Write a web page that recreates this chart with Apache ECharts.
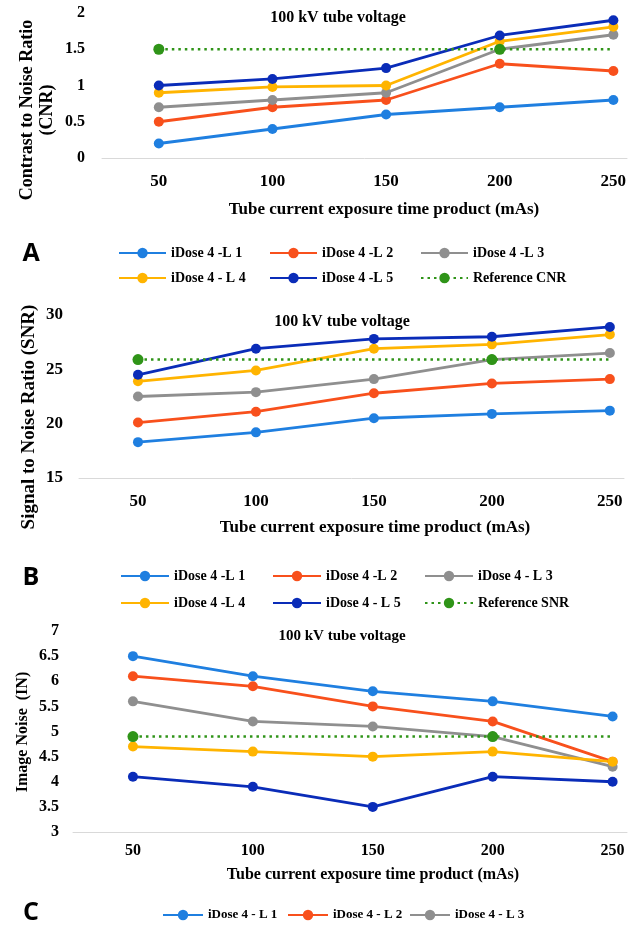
<!DOCTYPE html>
<html>
<head>
<meta charset="utf-8">
<script src="https://cdn.jsdelivr.net/npm/echarts@6/dist/echarts.min.js"></script>
<style>
html,body{margin:0;padding:0;background:#fff;}
#c{width:640px;height:928px;}
</style>
</head>
<body>
<div id="c"></div>
<script>
// ---- Data ----
const mAs = [50, 100, 150, 200, 250];
const mAsLabels = ['50', '100', '150', '200', '250'];

// Panel A: Contrast to Noise Ratio
const cnrNames = ['iDose 4 -L 1', 'iDose 4 -L 2', 'iDose 4 -L 3', 'iDose 4 - L 4', 'iDose 4 -L 5', 'Reference CNR'];
const cnrL1 = [0.2, 0.4, 0.6, 0.7, 0.8];
const cnrL2 = [0.5, 0.7, 0.8, 1.3, 1.2];
const cnrL3 = [0.7, 0.8, 0.9, 1.5, 1.7];
const cnrL4 = [0.9, 0.98, 1.0, 1.61, 1.81];
const cnrL5 = [1.0, 1.09, 1.24, 1.69, 1.9];
const cnrRef = [1.5, 1.5, 1.5, 1.5, 1.5];

// Panel B: Signal to Noise Ratio
const snrNames = ['iDose 4 -L 1', 'iDose 4 -L 2', 'iDose 4 - L 3', 'iDose 4 -L 4', 'iDose 4 - L 5', 'Reference SNR'];
const snrL1 = [18.3, 19.2, 20.5, 20.9, 21.2];
const snrL2 = [20.1, 21.1, 22.8, 23.7, 24.1];
const snrL3 = [22.5, 22.9, 24.1, 25.9, 26.5];
const snrL4 = [23.9, 24.9, 26.9, 27.3, 28.2];
const snrL5 = [24.5, 26.9, 27.8, 28.0, 28.9];
const snrRef = [25.9, 25.9, 25.9, 25.9, 25.9];

// Panel C: Image Noise
const inNames = ['iDose 4 - L 1', 'iDose 4 - L 2', 'iDose 4 - L 3', 'iDose 4 - L 4', 'iDose 4 - L 5', 'Reference IN'];
const inL1 = [6.5, 6.1, 5.8, 5.6, 5.3];
const inL2 = [6.1, 5.9, 5.5, 5.2, 4.4];
const inL3 = [5.6, 5.2, 5.1, 4.9, 4.3];
const inL4 = [4.7, 4.6, 4.5, 4.6, 4.4];
const inL5 = [4.1, 3.9, 3.5, 4.1, 4.0];
const inRef = [4.9, 4.9, 4.9, 4.9, 4.9];

// reference series shows markers only at these mAs values
const refMarkerAt = [50, 200];

// ---- Styles ----
const COLORS = ['#1f7fe0', '#f8501c', '#8f8f8f', '#ffb400', '#0a2cb8', '#2f9418'];
const SERIF = '"Liberation Serif", "Times New Roman", serif';
const SANS = '"Open Sans", "Liberation Sans", sans-serif';

const panels = [
  { names: cnrNames, vals: [cnrL1, cnrL2, cnrL3, cnrL4, cnrL5], ref: cnrRef,
    grid: { left: 102, top: 13, width: 525, height: 145 },
    y: { min: 0, max: 2, interval: 0.5 }, yFont: 16, xFont: 17, yMargin: 17, xMargin: 15 },
  { names: snrNames, vals: [snrL1, snrL2, snrL3, snrL4, snrL5], ref: snrRef,
    grid: { left: 79, top: 315, width: 545, height: 163 },
    y: { min: 15, max: 30, interval: 5 }, yFont: 17, xFont: 17, yMargin: 16, xMargin: 15 },
  { names: inNames, vals: [inL1, inL2, inL3, inL4, inL5], ref: inRef,
    grid: { left: 73, top: 631, width: 554, height: 201 },
    y: { min: 3, max: 7, interval: 0.5 }, yFont: 16, xFont: 16, yMargin: 14, xMargin: 11 }
];

const grids = [], xAxes = [], yAxes = [], series = [];
panels.forEach((p, g) => {
  grids.push(Object.assign({ containLabel: false, outerBoundsMode: 'none' }, p.grid));
  xAxes.push({
    type: 'value', gridIndex: g, min: 25, max: 256,
    axisLine: { show: true, lineStyle: { color: '#d9d9d9', width: 1 } },
    axisTick: { show: false },
    splitLine: { show: false },
    axisLabel: {
      customValues: mAs,
      formatter: v => mAsLabels[mAs.indexOf(v)] !== undefined ? mAsLabels[mAs.indexOf(v)] : '',
      fontFamily: SERIF, fontWeight: 'bold', fontSize: p.xFont, color: '#000', margin: p.xMargin
    }
  });
  yAxes.push({
    type: 'value', gridIndex: g, min: p.y.min, max: p.y.max, interval: p.y.interval,
    axisLine: { show: false }, axisTick: { show: false }, splitLine: { show: false },
    axisLabel: { fontFamily: SERIF, fontWeight: 'bold', fontSize: p.yFont, color: '#000', margin: p.yMargin }
  });
  p.vals.forEach((arr, k) => {
    series.push({
      type: 'line', name: p.names[k], xAxisIndex: g, yAxisIndex: g,
      data: mAs.map((x, i) => [x, arr[i]]),
      symbol: 'circle', symbolSize: 10, clip: false,
      lineStyle: { color: COLORS[k], width: 2.8 },
      itemStyle: { color: COLORS[k] }
    });
  });
  series.push({
    type: 'line', name: p.names[5], xAxisIndex: g, yAxisIndex: g,
    data: mAs.map((x, i) => refMarkerAt.indexOf(x) >= 0 ? { value: [x, p.ref[i]] } : { value: [x, p.ref[i]], symbol: 'none' }),
    symbol: 'circle', symbolSize: 11, clip: false,
    lineStyle: { color: COLORS[5], width: 2.5, type: [2.5, 4] },
    itemStyle: { color: COLORS[5] }
  });
});

// legends: one component per item so columns align
function leg(name, left, cy, font, w) {
  return {
    data: [name], left: left, top: cy - 8, orient: 'horizontal',
    itemWidth: w, itemHeight: 13, padding: 0, selectedMode: false,
    textStyle: { fontFamily: SERIF, fontWeight: 'bold', fontSize: font, color: '#000', lineHeight: 16 }
  };
}
const legends = [
  leg(cnrNames[0], 118, 253, 14, 47), leg(cnrNames[1], 269, 253, 14, 47), leg(cnrNames[2], 420, 253, 14, 47),
  leg(cnrNames[3], 118, 278, 14, 47), leg(cnrNames[4], 269, 278, 14, 47), leg(cnrNames[5], 420, 278, 14, 47),
  leg(snrNames[0], 120, 576, 14, 48), leg(snrNames[1], 272, 576, 14, 48), leg(snrNames[2], 424, 576, 14, 48),
  leg(snrNames[3], 120, 603, 14, 48), leg(snrNames[4], 272, 603, 14, 48), leg(snrNames[5], 424, 603, 14, 48),
  leg(inNames[0], 162, 915, 13, 40), leg(inNames[1], 287, 915, 13, 40), leg(inNames[2], 409, 915, 13, 40)
];

function txt(s, x, y, size, opts) {
  return Object.assign({
    type: 'text', x: x, y: y,
    style: { text: s, fontFamily: SERIF, fontWeight: 'bold', fontSize: size, fill: '#000', align: 'center', verticalAlign: 'middle' }
  }, opts || {});
}
const ROT = Math.PI / 2;
const graphics = [
  txt('100 kV tube voltage', 338, 18, 16),
  txt('Tube current exposure time product (mAs)', 384, 210, 17),
  txt('Contrast to Noise Ratio', 27, 110, 18, { rotation: ROT }),
  txt('(CNR)', 47, 110, 18, { rotation: ROT }),
  txt('100 kV tube voltage', 342, 322, 16),
  txt('Tube current exposure time product (mAs)', 375, 528, 17),
  txt('Signal to Noise Ratio (SNR)', 29, 417, 19, { rotation: ROT }),
  txt('100 kV tube voltage', 342, 636, 15),
  txt('Tube current exposure time product (mAs)', 373, 875, 16),
  txt('Image Noise  (IN)', 23, 732, 16, { rotation: ROT }),
  { type: 'text', x: 31, y: 254, style: { text: 'A', fontFamily: SANS, fontWeight: 'bold', fontSize: 25, fill: '#000', align: 'center', verticalAlign: 'middle' } },
  { type: 'text', x: 31, y: 578, style: { text: 'B', fontFamily: SANS, fontWeight: 'bold', fontSize: 25, fill: '#000', align: 'center', verticalAlign: 'middle' } },
  { type: 'text', x: 31, y: 913, style: { text: 'C', fontFamily: SANS, fontWeight: 'bold', fontSize: 25, fill: '#000', align: 'center', verticalAlign: 'middle' } }
];

const chart = echarts.init(document.getElementById('c'), null, { renderer: 'canvas' });
chart.setOption({
  animation: false,
  backgroundColor: '#fff',
  grid: grids, xAxis: xAxes, yAxis: yAxes,
  legend: legends,
  graphic: graphics,
  series: series
});
</script>
</body>
</html>
